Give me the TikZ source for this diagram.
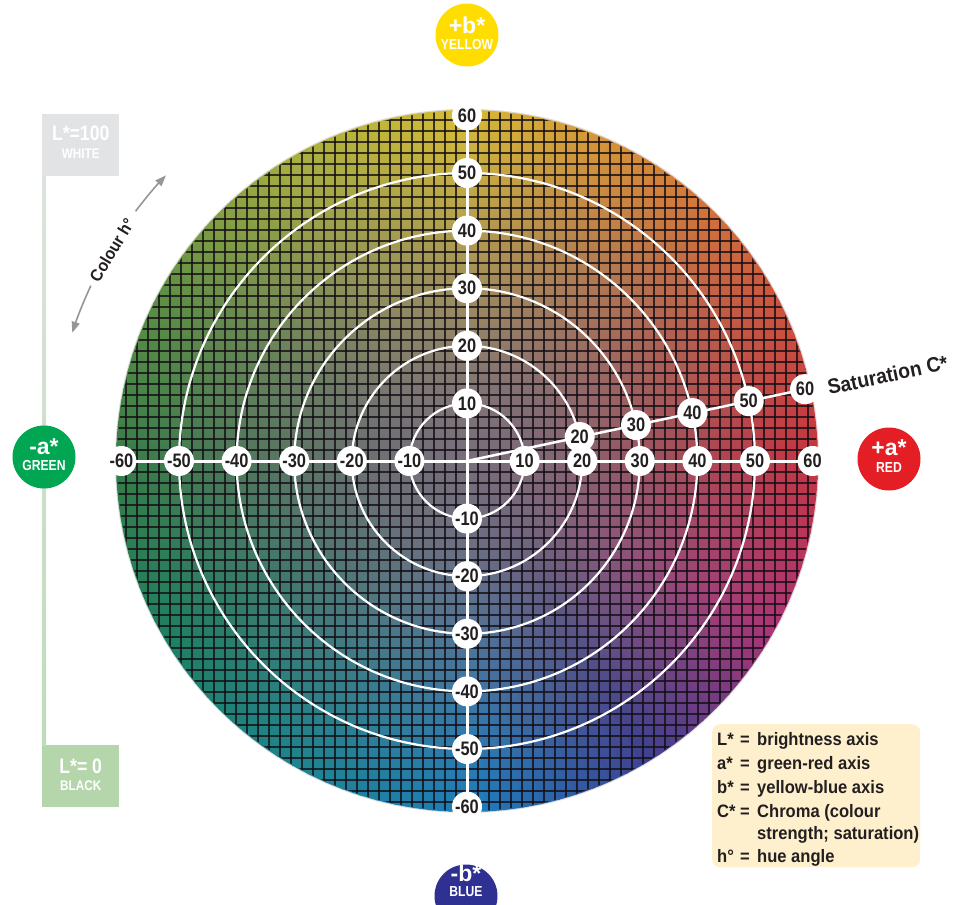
\documentclass[tikz,border=0pt]{standalone}
\usepackage{fontspec}
\setmainfont{Liberation Sans}
\newfontfamily\fcond{Liberation Sans}[FakeStretch=0.84]
\newfontfamily\fleg{Liberation Sans}[FakeStretch=0.92]
\usetikzlibrary{fadings,arrows.meta,calc}
\pgfdeclarelayer{disk}
\pgfdeclarelayer{lines}
\pgfsetlayers{disk,lines,main}

\definecolor{ink}{RGB}{35,31,32}
\definecolor{cyel}{RGB}{255,221,0}
\definecolor{cred}{RGB}{227,30,36}
\definecolor{cgreen}{RGB}{0,166,81}
\definecolor{cblue}{RGB}{46,49,146}
\definecolor{cgrey}{RGB}{120,110,124}
\definecolor{legbg}{RGB}{254,239,205}
\definecolor{lwhite}{RGB}{226,227,229}
\definecolor{lblack}{RGB}{181,214,170}
\definecolor{harrow}{RGB}{150,150,152}
\definecolor{barTop}{RGB}{222,226,222}
\definecolor{barBot}{RGB}{190,220,185}
\definecolor{gridc}{RGB}{20,15,22}

\definecolor{c0}{RGB}{225,35,45}
\definecolor{c1}{RGB}{235,85,40}
\definecolor{c2}{RGB}{245,150,35}
\definecolor{c3}{RGB}{245,215,30}
\definecolor{c4}{RGB}{180,195,45}
\definecolor{c5}{RGB}{85,155,50}
\definecolor{c6}{RGB}{30,130,55}
\definecolor{c7}{RGB}{0,135,90}
\definecolor{c8}{RGB}{0,140,150}
\definecolor{c9}{RGB}{0,130,210}
\definecolor{c10}{RGB}{45,50,150}
\definecolor{c11}{RGB}{190,35,115}
\definecolor{c12}{RGB}{225,35,45}

\pgfdeclareradialshading{cfadeshade}{\pgfpointorigin}{color(0bp)=(white); color(6bp)=(white!90!black); color(14bp)=(white!60!black); color(22bp)=(white!32!black); color(30bp)=(white!10!black); color(37bp)=(black); color(50bp)=(black)}
\pgfdeclarefading{cfade}{\pgfuseshading{cfadeshade}}

\begin{document}
\begin{tikzpicture}[x=1pt,y=-1pt,
  lab/.style={circle, fill=white, inner sep=0pt, minimum size=30pt, text=ink,
    font=\fcond\bfseries\fontsize{19.5}{19.5}\selectfont},
  ringline/.style={white, line width=2.2pt},
  axisline/.style={white, line width=3pt},
  bigc/.style={circle, inner sep=0pt, minimum size=63pt},
  bigA/.style={text=white, inner sep=0pt, font=\bfseries\fontsize{23}{23}\selectfont},
  bigB/.style={text=white, inner sep=0pt, font=\fcond\bfseries\fontsize{14.5}{14.5}\selectfont},
  lbox/.style={inner sep=0pt, minimum width=77pt, minimum height=62pt, anchor=north west},
  lA/.style={text=white, inner sep=0pt, font=\fcond\bfseries\fontsize{21}{21}\selectfont},
  lB/.style={text=white, inner sep=0pt, font=\fcond\bfseries\fontsize{14}{14}\selectfont},
  legline/.style={anchor=base west, inner sep=0pt, text=ink,
    font=\fleg\bfseries\fontsize{18}{18}\selectfont},
  hue/.style={harrow, line width=1.6pt, -{Triangle[length=11pt,width=8pt]}}
]
\useasboundingbox (0,0) rectangle (959,905);
\coordinate (C) at (467,461);

% ---------- colour disk ----------
\begin{pgfonlayer}{disk}
\foreach \i [evaluate=\i as \nx using int(\i+1)] in {0,...,11}{
  \foreach \j in {0,...,9}{
    \pgfmathtruncatemacro\p{100-10*\j}
    \pgfmathsetmacro\a{30*\i+3*\j}
    \pgfmathsetmacro\b{\a+3.4}
    \fill[c\i!\p!c\nx] (C) -- ++(-\a:351) arc[start angle=-\a, end angle=-\b, radius=351] -- cycle;
  }
}
\fill[cgrey, path fading=cfade] (C) circle[radius=352];
\begin{scope}
  \clip (C) circle[radius=350];
  \foreach \k in {-32,...,32}{
    \draw[gridc, opacity=0.8, line width=1.3pt] (C) ++(\k*11,-360) -- ++(0,720);
    \draw[gridc, opacity=0.8, line width=1.3pt] (C) ++(-360,\k*11) -- ++(720,0);
  }
\end{scope}
\end{pgfonlayer}

% ---------- labels ----------
\foreach \k in {1,...,6}{
  \node[lab] (xp\k) at ($(C)+(\k*57.6,0)$) {\k0};
  \node[lab] (xm\k) at ($(C)+(-\k*57.6,0)$) {-\k0};
  \node[lab] (yp\k) at ($(C)+(0,-\k*57.6)$) {\k0};
  \node[lab] (ym\k) at ($(C)+(0,\k*57.6)$) {-\k0};
}
\foreach \k in {2,...,6}{
  \node[lab] (s\k) at ($(C)+(-12:\k*57.6)$) {\k0};
}

% ---------- white lines ----------
\begin{pgfonlayer}{lines}
\foreach \k in {1,...,5}{
  \draw[ringline] (C) circle[radius=57.6*\k];
}
\draw[axisline] (xm6.center) -- (xp6.center);
\draw[axisline] (yp6.center) -- (ym6.center);
\draw[white, line width=2.5pt] (C) -- (s6.center);
\end{pgfonlayer}

\node[rotate=12, anchor=west, inner sep=0pt, text=ink, font=\fleg\bfseries\fontsize{21}{21}\selectfont]
  (sat) at ($(C)+(-11.5:368)$) {Saturation C*};

% ---------- axis end circles ----------
\node[bigc, fill=cyel] (yel) at (467,35) {};
\node[bigA] (yelA) at ($(yel.center)+(0,-10)$) {+b*};
\node[bigB] (yelB) at ($(yel.center)+(0,10)$) {YELLOW};
\node[bigc, fill=cred] (red) at (889,459) {};
\node[bigA] (redA) at ($(red.center)+(0,-11)$) {+a*};
\node[bigB] (redB) at ($(red.center)+(0,9)$) {RED};
\node[bigc, fill=cblue] (blu) at (466,896) {};
\node[bigA] (bluA) at ($(blu.center)+(0,-23)$) {-b*};
\node[bigB] (bluB) at ($(blu.center)+(0,-4)$) {BLUE};

% ---------- L* bar ----------
\node[lbox, fill=lwhite] (Lw) at (42,114) {};
\node[lA] (LwA) at ($(Lw.center)+(0,-12)$) {L*=100};
\node[lB] (LwB) at ($(Lw.center)+(0,8)$) {WHITE};
\node[lbox, fill=lblack] (Lb) at (42,745) {};
\node[lA] (LbA) at ($(Lb.center)+(0,-10)$) {L*= 0};
\node[lB] (LbB) at ($(Lb.center)+(0,9)$) {BLACK};
\shade[top color=barTop, bottom color=barBot] (Lw.south west) rectangle ($(Lb.north west)+(4,0)$);
\node[bigc, fill=cgreen] (grn) at (44,457) {};
\node[bigA] (grnA) at ($(grn.center)+(0,-10)$) {-a*};
\node[bigB] (grnB) at ($(grn.center)+(0,9)$) {GREEN};

% ---------- Colour h arrow ----------
\node[rotate=59, inner sep=0pt, text=ink, font=\fleg\bfseries\fontsize{17}{17}\selectfont]
  (hue) at ($(C)+(-149.3:413)$) {Colour h°};
\draw[hue] (C) ++(-155:415) arc[start angle=-155, end angle=-162, radius=415];
\draw[hue] (C) ++(-143:415) arc[start angle=-143, end angle=-136.5, radius=415];

% ---------- legend ----------
\node[fill=legbg, rounded corners=8pt, minimum width=208pt, minimum height=143pt, anchor=north west, inner sep=0pt] (leg) at (712,724) {};
\node[legline] (l1) at (717,745) {\makebox[23pt][l]{L*}\makebox[17pt][l]{=}brightness axis};
\node[legline] (l2) at (717,769) {\makebox[23pt][l]{a*}\makebox[17pt][l]{=}green-red axis};
\node[legline] (l3) at (717,793) {\makebox[23pt][l]{b*}\makebox[17pt][l]{=}yellow-blue axis};
\node[legline] (l4) at (717,817) {\makebox[23pt][l]{C*}\makebox[17pt][l]{=}Chroma (colour};
\node[legline] (l5) at (757,839) {strength; saturation)};
\node[legline] (l6) at (717,862) {\makebox[23pt][l]{h°}\makebox[17pt][l]{=}hue angle};
\end{tikzpicture}
\end{document}
